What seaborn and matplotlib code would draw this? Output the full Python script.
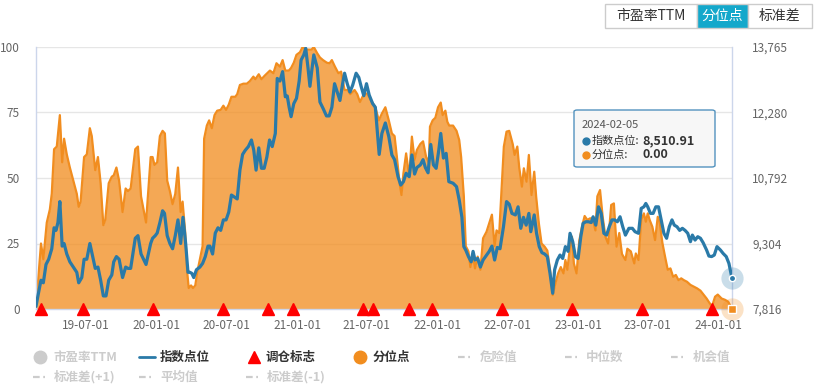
"""Index level vs. valuation percentile chart (分位点 view)."""

from __future__ import annotations

import matplotlib

matplotlib.use("Agg")

import matplotlib.dates as mdates
import matplotlib.pyplot as plt
import numpy as np
import pandas as pd
import seaborn as sns
from matplotlib.lines import Line2D
from matplotlib.patches import FancyBboxPatch, Rectangle

# ---------------------------------------------------------------- data
PCT_DATES = [
    "2019-02-22", "2019-02-25", "2019-03-07", "2019-03-13", "2019-03-22", "2019-03-30", "2019-04-04",
    "2019-04-10", "2019-04-17", "2019-04-25", "2019-05-01", "2019-05-06", "2019-05-13", "2019-05-21",
    "2019-05-30", "2019-06-08", "2019-06-13", "2019-06-18", "2019-06-27", "2019-07-04", "2019-07-12",
    "2019-07-17", "2019-07-26", "2019-08-02", "2019-08-09", "2019-08-16", "2019-08-21", "2019-08-30",
    "2019-09-07", "2019-09-12", "2019-09-19", "2019-09-26", "2019-10-05", "2019-10-13", "2019-10-19",
    "2019-10-26", "2019-11-07", "2019-11-14", "2019-11-22", "2019-12-05", "2019-12-17", "2019-12-22",
    "2019-12-27", "2020-01-03", "2020-01-10", "2020-01-17", "2020-01-23", "2020-01-29", "2020-02-05",
    "2020-02-12", "2020-02-19", "2020-02-26", "2020-03-04", "2020-03-09", "2020-03-16", "2020-03-21",
    "2020-03-25", "2020-03-31", "2020-04-05", "2020-04-11", "2020-04-16", "2020-04-23", "2020-04-30",
    "2020-05-04", "2020-05-11", "2020-05-17", "2020-05-24", "2020-05-31", "2020-06-07", "2020-06-16",
    "2020-06-23", "2020-06-30", "2020-07-07", "2020-07-14", "2020-07-24", "2020-07-29", "2020-08-05",
    "2020-08-14", "2020-08-23", "2020-08-31", "2020-09-09", "2020-09-14", "2020-09-23", "2020-09-30",
    "2020-10-08", "2020-10-15", "2020-10-22", "2020-10-31", "2020-11-08", "2020-11-17", "2020-11-24",
    "2020-12-01", "2020-12-10", "2020-12-16", "2020-12-23", "2020-12-30", "2021-01-08", "2021-01-15",
    "2021-01-25", "2021-02-07", "2021-02-13", "2021-02-22", "2021-03-01", "2021-03-09", "2021-03-19",
    "2021-03-26", "2021-04-01", "2021-04-09", "2021-04-18", "2021-04-25", "2021-05-04", "2021-05-12",
    "2021-05-19", "2021-05-30", "2021-06-06", "2021-06-13", "2021-06-22", "2021-07-02", "2021-07-11",
    "2021-07-23", "2021-08-01", "2021-08-09", "2021-08-18", "2021-08-27", "2021-09-04", "2021-09-11",
    "2021-09-17", "2021-09-24", "2021-09-29", "2021-10-04", "2021-10-11", "2021-10-19", "2021-10-26",
    "2021-11-02", "2021-11-08", "2021-11-17", "2021-11-24", "2021-12-02", "2021-12-09", "2021-12-12",
    "2021-12-19", "2021-12-26", "2022-01-02", "2022-01-09", "2022-01-14", "2022-01-21", "2022-01-26",
    "2022-01-31", "2022-02-10", "2022-02-19", "2022-02-26", "2022-03-03", "2022-03-10", "2022-03-15",
    "2022-03-22", "2022-03-27", "2022-04-03", "2022-04-08", "2022-04-15", "2022-04-22", "2022-04-29",
    "2022-05-08", "2022-05-15", "2022-05-22", "2022-05-29", "2022-06-03", "2022-06-10", "2022-06-17",
    "2022-06-22", "2022-06-29", "2022-07-06", "2022-07-15", "2022-07-20", "2022-07-27", "2022-08-01",
    "2022-08-08", "2022-08-13", "2022-08-20", "2022-08-26", "2022-09-02", "2022-09-09", "2022-09-14",
    "2022-09-21", "2022-09-28", "2022-10-06", "2022-10-13", "2022-10-20", "2022-10-27", "2022-11-03",
    "2022-11-10", "2022-11-17", "2022-11-24", "2022-11-29", "2022-12-04", "2022-12-11", "2022-12-16",
    "2022-12-21", "2022-12-28", "2023-01-04", "2023-01-11", "2023-01-18", "2023-01-25", "2023-02-01",
    "2023-02-08", "2023-02-15", "2023-02-20", "2023-02-27", "2023-03-06", "2023-03-13", "2023-03-20",
    "2023-03-28", "2023-04-04", "2023-04-11", "2023-04-18", "2023-04-25", "2023-05-04", "2023-05-09",
    "2023-05-18", "2023-05-27", "2023-05-31", "2023-06-07", "2023-06-14", "2023-06-21", "2023-06-26",
    "2023-07-01", "2023-07-06", "2023-07-13", "2023-07-20", "2023-07-27", "2023-08-01", "2023-08-08",
    "2023-08-15", "2023-08-22", "2023-08-29", "2023-09-05", "2023-09-12", "2023-09-19", "2023-09-26",
    "2023-10-03", "2023-10-11", "2023-10-20", "2023-10-29", "2023-11-06", "2023-11-15", "2023-11-24",
    "2023-12-01", "2023-12-09", "2023-12-15", "2023-12-23", "2023-12-30", "2024-01-09", "2024-01-18",
    "2024-01-26", "2024-02-05",
]
PCT_VALUES = [
    2, 6, 25, 19, 33, 38, 44, 61, 62, 74, 56, 65, 59, 54,
    49, 44, 39, 41, 58, 59, 69, 66, 53, 58, 48, 32, 34, 48,
    50.5, 51, 54, 49, 37, 46, 45, 46, 61, 62, 43, 33, 58, 58,
    55, 56, 66, 68, 67, 49, 45, 40, 44, 54, 37, 41, 29, 14,
    8, 9, 8, 9, 14, 19, 24, 65, 70, 72, 69, 74, 75.7, 76,
    77.6, 76, 78, 81, 81, 82, 85.5, 86, 86, 87, 88.7, 87.7, 89.6, 87.7,
    89, 90, 91, 90, 93.8, 92.5, 95, 91, 91, 92, 94, 97, 98, 100,
    99, 99, 100, 97.6, 96, 95, 94, 93.8, 95, 92.5, 90, 90.6, 83.6, 83.6,
    82, 83.6, 82, 79, 81.7, 82.3, 79.8, 77, 72, 74.6, 77, 72, 67, 66,
    58, 48, 43.5, 51.8, 59.4, 50.5, 65.8, 57, 60.7, 63, 64, 58, 55.9, 69.6,
    72, 73, 77, 78.8, 74, 75.7, 71.5, 70, 70, 68, 64.5, 58, 43, 24,
    22, 16, 21, 15.5, 20, 15, 27, 29.5, 32.7, 36, 24, 30, 29, 48,
    62, 67.7, 68, 63, 58.8, 62, 54, 46.7, 53.7, 48.6, 58.8, 43.5, 52.4, 42.9,
    32.7, 25, 23.8, 22.3, 15, 5.3, 9.8, 13.6, 16, 13.6, 18.7, 15, 23.8, 27.6,
    17.4, 13.6, 26, 31.4, 35.5, 34, 34.6, 34.6, 30, 43, 45.4, 35, 27.6, 25,
    39.7, 40.3, 23.8, 29, 21, 18.7, 23, 22, 17.4, 21.2, 18.7, 34, 36.5, 33.3,
    36.5, 34, 31.4, 26.3, 35.2, 33.3, 25.3, 20, 15, 15.5, 12.3, 13, 11, 11.7,
    11, 10.4, 9.2, 8.5, 7.9, 7, 5.3, 4, 2.2, 1, 4.7, 5.5, 4, 3.5,
    2.8, 0.0,
]

INDEX_DATES = [
    "2019-02-22", "2019-02-27", "2019-03-07", "2019-03-13", "2019-03-20", "2019-03-27", "2019-04-04",
    "2019-04-10", "2019-04-15", "2019-04-20", "2019-04-25", "2019-05-01", "2019-05-06", "2019-05-13",
    "2019-05-21", "2019-05-30", "2019-06-08", "2019-06-13", "2019-06-21", "2019-06-27", "2019-07-04",
    "2019-07-12", "2019-07-21", "2019-07-26", "2019-08-02", "2019-08-09", "2019-08-16", "2019-08-23",
    "2019-08-30", "2019-09-07", "2019-09-12", "2019-09-19", "2019-09-26", "2019-10-05", "2019-10-13",
    "2019-10-19", "2019-10-26", "2019-11-07", "2019-11-14", "2019-11-22", "2019-12-05", "2019-12-17",
    "2019-12-22", "2019-12-29", "2020-01-03", "2020-01-10", "2020-01-17", "2020-01-22", "2020-01-29",
    "2020-02-05", "2020-02-12", "2020-02-19", "2020-02-26", "2020-03-04", "2020-03-10", "2020-03-17",
    "2020-03-23", "2020-03-28", "2020-04-02", "2020-04-07", "2020-04-14", "2020-04-23", "2020-04-30",
    "2020-05-07", "2020-05-14", "2020-05-19", "2020-05-26", "2020-06-02", "2020-06-09", "2020-06-16",
    "2020-06-23", "2020-06-30", "2020-07-07", "2020-07-14", "2020-07-19", "2020-07-29", "2020-08-05",
    "2020-08-12", "2020-08-19", "2020-08-27", "2020-09-04", "2020-09-10", "2020-09-16", "2020-09-23",
    "2020-09-30", "2020-10-07", "2020-10-14", "2020-10-21", "2020-10-28", "2020-11-05", "2020-11-10",
    "2020-11-17", "2020-11-24", "2020-12-01", "2020-12-06", "2020-12-11", "2020-12-16", "2020-12-23",
    "2020-12-30", "2021-01-06", "2021-01-11", "2021-01-18", "2021-01-23", "2021-01-29", "2021-02-03",
    "2021-02-08", "2021-02-13", "2021-02-22", "2021-03-01", "2021-03-09", "2021-03-18", "2021-03-25",
    "2021-04-01", "2021-04-08", "2021-04-15", "2021-04-22", "2021-04-29", "2021-05-04", "2021-05-11",
    "2021-05-18", "2021-05-25", "2021-06-03", "2021-06-10", "2021-06-16", "2021-06-23", "2021-06-30",
    "2021-07-07", "2021-07-16", "2021-07-23", "2021-08-02", "2021-08-09", "2021-08-18", "2021-08-27",
    "2021-09-04", "2021-09-11", "2021-09-20", "2021-09-27", "2021-10-04", "2021-10-11", "2021-10-19",
    "2021-10-26", "2021-11-02", "2021-11-08", "2021-11-17", "2021-11-24", "2021-11-30", "2021-12-07",
    "2021-12-14", "2021-12-21", "2021-12-28", "2022-01-04", "2022-01-09", "2022-01-16", "2022-01-23",
    "2022-01-30", "2022-02-10", "2022-02-19", "2022-02-26", "2022-03-05", "2022-03-10", "2022-03-15",
    "2022-03-22", "2022-03-29", "2022-04-03", "2022-04-08", "2022-04-15", "2022-04-22", "2022-04-29",
    "2022-05-08", "2022-05-15", "2022-05-22", "2022-05-29", "2022-06-05", "2022-06-12", "2022-06-21",
    "2022-06-29", "2022-07-06", "2022-07-13", "2022-07-22", "2022-07-29", "2022-08-05", "2022-08-12",
    "2022-08-19", "2022-08-26", "2022-08-31", "2022-09-09", "2022-09-15", "2022-09-22", "2022-09-29",
    "2022-10-06", "2022-10-13", "2022-10-20", "2022-10-27", "2022-11-01", "2022-11-08", "2022-11-15",
    "2022-11-22", "2022-11-29", "2022-12-06", "2022-12-11", "2022-12-18", "2022-12-25", "2023-01-01",
    "2023-01-08", "2023-01-14", "2023-01-21", "2023-01-28", "2023-02-04", "2023-02-09", "2023-02-16",
    "2023-02-23", "2023-03-02", "2023-03-09", "2023-03-16", "2023-03-23", "2023-03-30", "2023-04-06",
    "2023-04-13", "2023-04-20", "2023-04-27", "2023-05-04", "2023-05-13", "2023-05-22", "2023-05-29",
    "2023-06-07", "2023-06-14", "2023-06-21", "2023-06-26", "2023-07-01", "2023-07-08", "2023-07-15",
    "2023-07-22", "2023-07-29", "2023-08-05", "2023-08-12", "2023-08-19", "2023-08-26", "2023-09-02",
    "2023-09-08", "2023-09-15", "2023-09-22", "2023-09-29", "2023-10-06", "2023-10-13", "2023-10-20",
    "2023-10-25", "2023-11-01", "2023-11-08", "2023-11-15", "2023-11-22", "2023-12-01", "2023-12-07",
    "2023-12-14", "2023-12-21", "2023-12-28", "2024-01-06", "2024-01-13", "2024-01-21", "2024-01-28",
    "2024-02-05",
]
INDEX_VALUES = [
    7875, 8113, 8470, 8411, 8827, 8946, 9184, 9660, 9601, 9779, 10255, 9244, 9303, 9065,
    8887, 8768, 8649, 8411, 8530, 8946, 8946, 9303, 8946, 8738, 8768, 8470, 8113, 8113,
    8470, 8589, 8887, 9006, 8946, 8530, 8768, 8738, 8738, 9422, 9482, 9065, 8827, 9303,
    9422, 9482, 9541, 9779, 10047, 9987, 9482, 9303, 9184, 9482, 9839, 9303, 9898, 9303,
    8649, 8649, 8625, 8530, 8708, 8768, 8851, 9006, 9244, 9244, 9065, 9541, 9660, 9601,
    9839, 9839, 10017, 10404, 10374, 10315, 10969, 11326, 11421, 11504, 11653, 11421, 10969, 11475,
    11011, 11011, 11266, 11653, 11504, 11802, 13051, 12992, 13206, 12635, 12653, 12396, 12183, 12480,
    12599, 12992, 13468, 13586, 13735, 13289, 12873, 13247, 13586, 13289, 12516, 12373, 12200, 12200,
    12396, 12932, 12742, 12551, 12932, 13170, 12932, 12742, 12896, 13170, 13075, 12873, 12659, 12932,
    12676, 12480, 12396, 11326, 11802, 12040, 11730, 11314, 11207, 10820, 10630, 10707, 10898, 10820,
    11314, 10880, 11028, 11088, 11207, 11028, 10909, 11552, 11088, 11011, 11427, 11802, 11243, 11350,
    10707, 10672, 10594, 10291, 9898, 9232, 9154, 9006, 8887, 9125, 8928, 8964, 8768, 8928,
    9041, 9125, 9244, 8928, 9214, 9184, 9684, 10255, 10196, 9987, 9952, 10136, 9648, 9898,
    9720, 9987, 9571, 9952, 9535, 9232, 9095, 9065, 9006, 8625, 8173, 8708, 8928, 9041,
    8964, 9232, 9125, 9535, 9345, 9006, 8964, 9458, 9761, 9797, 9797, 9779, 9910, 9720,
    10136, 9987, 9535, 9494, 9684, 9839, 9839, 9797, 9910, 9684, 9494, 9648, 9648, 9571,
    9535, 10100, 10136, 10213, 10136, 9987, 9987, 10136, 10136, 9839, 9535, 9422, 9684, 9839,
    9720, 9684, 9601, 9648, 9601, 9535, 9345, 9494, 9381, 9458, 9422, 9321, 9154, 9018,
    9006, 9041, 9232, 9154, 9077, 9006, 8851, 8510.91,
]

REBALANCE_DATES = [
    "2019-03-07", "2019-06-25", "2019-12-24", "2020-06-22", "2020-10-18", "2020-12-21", "2021-06-22",
    "2021-07-18", "2021-10-18", "2021-12-18", "2022-06-18", "2022-12-17", "2023-06-15", "2023-12-14",
]

X_TICKS = [
    "2019-07-01", "2020-01-01", "2020-07-01", "2021-01-01", "2021-07-01",
    "2022-01-01", "2022-07-01", "2023-01-01", "2023-07-01", "2024-01-01",
]
PCT_TICKS = [0, 25, 50, 75, 100]
INDEX_MIN, INDEX_MAX = 7816, 13765
INDEX_TICK_LABELS = ["7,816", "9,304", "10,792", "12,280", "13,765"]
X_START = "2019-02-22"

LEGEND_LABELS = ["市盈率TTM", "指数点位", "调仓标志", "分位点", "危险值", "中位数", "机会值",
                 "标准差(+1)", "平均值", "标准差(-1)"]
BUTTON_LABELS = ["市盈率TTM", "分位点", "标准差"]

# ---------------------------------------------------------------- style
FIG_W, FIG_H = 821, 388
BLUE = "#2a7aa8"
ORANGE = "#f18d1f"
RED = "#ff0000"
AXIS = "#ccd6eb"
GRID = "#e6e6e6"
TICK_TXT = "#666666"
MUTED = "#cccccc"
FONTS = ["Noto Sans CJK SC", "DejaVu Sans"]


def _fig_xy(x: float, y: float) -> tuple[float, float]:
    """Pixel position (top-left origin) -> figure fraction."""
    return x / FIG_W, 1 - y / FIG_H


def _draw_series(ax: plt.Axes, ax2: plt.Axes) -> None:
    pct = pd.DataFrame({"date": pd.to_datetime(PCT_DATES), "value": PCT_VALUES})
    idx = pd.DataFrame({"date": pd.to_datetime(INDEX_DATES), "value": INDEX_VALUES})

    ax.fill_between(pct["date"], 0, pct["value"], color=ORANGE, alpha=0.76, lw=0, zorder=1)
    sns.lineplot(data=pct, x="date", y="value", ax=ax, color=ORANGE, lw=1.6, zorder=2)
    sns.lineplot(data=idx, x="date", y="value", ax=ax2, color=BLUE, lw=2.3, zorder=3)

    # rebalance markers sit on the baseline
    reb = pd.to_datetime(REBALANCE_DATES)
    ax2.plot(reb, np.zeros(len(reb)), ls="none", marker="^", ms=8.5, color=RED,
             transform=ax2.get_xaxis_transform(), clip_on=False, zorder=5)

    # hovered point highlight
    last_i, last_p = idx.iloc[-1], pct.iloc[-1]
    ax2.plot([last_i["date"]], [last_i["value"]], "o", ms=16, color=BLUE, alpha=0.25,
             mec="none", clip_on=False, zorder=6)
    ax2.plot([last_i["date"]], [last_i["value"]], "o", ms=4.5, color=BLUE, mec="white",
             mew=1, clip_on=False, zorder=7)
    ax.plot([last_p["date"]], [last_p["value"]], "o", ms=16, color=ORANGE, alpha=0.25,
            mec="none", clip_on=False, zorder=6)
    ax.plot([last_p["date"]], [last_p["value"]], "s", ms=5.5, color=ORANGE, mec="white",
            mew=1, clip_on=False, zorder=7)


def _style_axes(ax: plt.Axes, ax2: plt.Axes) -> None:
    ax.set_xlim(pd.Timestamp(X_START), pd.Timestamp(INDEX_DATES[-1]))
    ax.set_ylim(0, 100)
    ax2.set_ylim(INDEX_MIN, INDEX_MAX)

    ax.set_yticks(PCT_TICKS)
    ax.set_yticklabels([str(t) for t in PCT_TICKS])
    ax2.set_yticks(np.linspace(INDEX_MIN, INDEX_MAX, len(INDEX_TICK_LABELS)))
    ax2.set_yticklabels(INDEX_TICK_LABELS)

    ax.set_xticks(pd.to_datetime(X_TICKS))
    ax.xaxis.set_major_formatter(mdates.DateFormatter("%y-%m-%d"))

    ax.set_xlabel("")
    ax.set_ylabel("")
    ax2.set_xlabel("")
    ax2.set_ylabel("")

    ax.set_axisbelow(True)
    ax.grid(False)
    ax2.grid(False)
    ax.yaxis.grid(True, color=GRID, lw=1)

    ax.tick_params(axis="x", length=6, width=1, color=AXIS, labelcolor=TICK_TXT,
                   labelsize=8.5, pad=1.5)
    ax.tick_params(axis="y", length=0, labelcolor=TICK_TXT, labelsize=8.5, pad=11.5)
    ax2.tick_params(axis="y", length=0, labelcolor=TICK_TXT, labelsize=8.5, pad=14.5)

    for name, spine in ax.spines.items():
        spine.set_visible(name != "top")
        spine.set_color(AXIS)
        spine.set_linewidth(1)
    for spine in ax2.spines.values():
        spine.set_visible(False)


def _draw_legend(fig: plt.Figure) -> None:
    dark = "#333333"
    row1, row2 = 357, 377
    # (symbol kind, symbol x, text x, row y, active)
    items = [
        ("dot", 40, 53, row1, False),
        ("line", 147, 160, row1, True),
        ("tri", 254, 266, row1, True),
        ("dot_o", 360, 373, row1, True),
        ("dash", 465, 480, row1, False),
        ("dash", 572, 586, row1, False),
        ("dash", 678, 693, row1, False),
        ("dash", 40, 54, row2, False),
        ("dash", 146, 160, row2, False),
        ("dash", 253, 267, row2, False),
    ]
    for (kind, sx, tx, y, active), label in zip(items, LEGEND_LABELS):
        fx, fy = _fig_xy(sx, y)
        if kind == "dot":
            fig.add_artist(Line2D([fx], [fy], marker="o", ms=9, color=MUTED, ls="none"))
        elif kind == "dot_o":
            fig.add_artist(Line2D([fx], [fy], marker="o", ms=9, color=ORANGE, ls="none"))
        elif kind == "tri":
            fig.add_artist(Line2D([fx], [fy], marker="^", ms=8.5, color=RED, ls="none"))
        elif kind == "line":
            fig.add_artist(Line2D([fx - 8 / FIG_W, fx + 8 / FIG_W], [fy, fy], color=BLUE, lw=2))
        else:
            fig.add_artist(Line2D([fx - 7 / FIG_W, fx + 7 / FIG_W], [fy, fy], color=MUTED,
                                  lw=1.6, dashes=(3, 1.6, 0.8, 1.6)))
        tfx, tfy = _fig_xy(tx, y)
        fig.text(tfx, tfy, label, ha="left", va="center", fontsize=9, fontweight="bold",
                 color=dark if active else MUTED, family=FONTS)


def _draw_buttons(fig: plt.Figure) -> None:
    edges = [605, 697, 748, 812]
    top, bottom = 4, 28
    for i, label in enumerate(BUTTON_LABELS):
        x0, x1 = edges[i], edges[i + 1]
        selected = i == 1
        fx0, fy0 = _fig_xy(x0, bottom)
        rect = Rectangle((fx0, fy0), (x1 - x0) / FIG_W, (bottom - top) / FIG_H,
                         transform=fig.transFigure, facecolor="#14a8cb" if selected else "white",
                         edgecolor=MUTED, lw=1)
        fig.add_artist(rect)
        cx, cy = _fig_xy((x0 + x1) / 2, (top + bottom) / 2)
        fig.text(cx, cy, label, ha="center", va="center", fontsize=10,
                 color="white" if selected else "#333333", family=FONTS)


def _draw_tooltip(fig: plt.Figure) -> None:
    x0, y0, x1, y1 = 574, 110, 715, 167
    fx0, fy0 = _fig_xy(x0, y1)
    box = FancyBboxPatch((fx0, fy0), (x1 - x0) / FIG_W, (y1 - y0) / FIG_H,
                         boxstyle="round,pad=0,rounding_size=0.004", transform=fig.transFigure,
                         facecolor="#f7f7f7", edgecolor="#4a8dbb", lw=1, alpha=0.95, zorder=10)
    fig.add_artist(box)
    fx, fy = _fig_xy(582, 125)
    fig.text(fx, fy, INDEX_DATES[-1], ha="left", va="center", fontsize=8, color="#555555",
             family=FONTS, zorder=11)
    rows = [
        (141, BLUE, "指数点位:", f"{INDEX_VALUES[-1]:,.2f}"),
        (155, ORANGE, "分位点:", f"{PCT_VALUES[-1]:.2f}"),
    ]
    for y, color, label, value in rows:
        dx, dy = _fig_xy(586, y)
        fig.add_artist(Line2D([dx], [dy], marker="o", ms=5, color=color, ls="none", zorder=11))
        lx, ly = _fig_xy(592, y)
        fig.text(lx, ly, label, ha="left", va="center", fontsize=8, color="#333333",
                 family=FONTS, zorder=11)
        vx, vy = _fig_xy(642, y)
        fig.text(vx, vy, value, ha="left", va="center", fontsize=9, fontweight="bold",
                 color="#333333", family=FONTS, zorder=11)


def main() -> None:
    sns.set_theme(style="white")
    plt.rcParams["font.family"] = FONTS
    plt.rcParams["axes.unicode_minus"] = False

    fig = plt.figure(figsize=(FIG_W / 100, FIG_H / 100), dpi=100)
    left, bottom = _fig_xy(36, 309)
    ax = fig.add_axes([left, bottom, (732 - 36) / FIG_W, (309 - 47) / FIG_H])
    ax2 = ax.twinx()

    _draw_series(ax, ax2)
    _style_axes(ax, ax2)
    _draw_legend(fig)
    _draw_buttons(fig)
    _draw_tooltip(fig)

    fig.savefig("out.png", dpi=100)
    plt.close(fig)


if __name__ == "__main__":
    main()
